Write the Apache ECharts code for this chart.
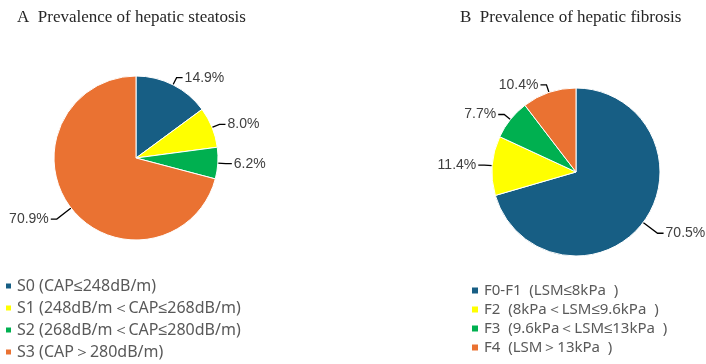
<!DOCTYPE html>
<html>
<head>
<meta charset="utf-8">
<script src="https://cdn.jsdelivr.net/npm/echarts@6/dist/echarts.min.js"></script>
<style>
  html, body { margin: 0; padding: 0; background: #fff; }
  #chart { width: 706px; height: 364px; }
</style>
</head>
<body>
<div id="chart"></div>
<script>
// Panel A: hepatic steatosis
const steatosisNames = [
  'S0 (CAP≤248dB/m)',
  'S1 (248dB/m＜CAP≤268dB/m)',
  'S2 (268dB/m＜CAP≤280dB/m)',
  'S3 (CAP＞280dB/m)'
];
const steatosisValues = [14.9, 8.0, 6.2, 70.9];

// Panel B: hepatic fibrosis
const fibrosisNames = [
  'F0-F1  (LSM≤8kPa  )',
  'F2  (8kPa＜LSM≤9.6kPa  )',
  'F3  (9.6kPa＜LSM≤13kPa  )',
  'F4  (LSM＞13kPa  )'
];
const fibrosisValues = [70.5, 11.4, 7.7, 10.4];

const colors = ['#175E84', '#FFFF00', '#00B050', '#EA7232'];

const chart = echarts.init(document.getElementById('chart'));

const labelStyle = {
  show: true,
  position: 'outside',
  formatter: p => p.value.toFixed(1) + '%',
  color: '#404040',
  fontFamily: 'Liberation Sans, Arial, sans-serif',
  fontSize: 14,
  overflow: 'none',
  distanceToLabelLine: 2
};

const lineStyle = { color: '#000', width: 1.3 };
const titleStyle = { fontFamily: 'Liberation Serif, Times New Roman, serif', fontWeight: 'normal', fontSize: 17, color: '#262626' };

// long leader for the big slices, as in the source figure
const toData = (names, values, longIdx) => names.map((n, i) => {
  const d = { name: n, value: values[i] };
  if (i === longIdx) d.labelLine = { length: 18 };
  return d;
});

chart.setOption({
  animation: false,
  color: colors,
  title: [
    { text: 'A  Prevalence of hepatic steatosis', left: 12, top: 4, textStyle: titleStyle },
    { text: 'B  Prevalence of hepatic fibrosis', left: 455, top: 4, textStyle: titleStyle }
  ],
  legend: [
    {
      data: steatosisNames,
      orient: 'vertical',
      left: 4, top: 278, padding: 0,
      itemWidth: 7, itemHeight: 7, itemGap: 6,
      icon: 'rect',
      textStyle: { color: '#595959', fontFamily: 'Noto Sans, sans-serif', fontSize: 16, lineHeight: 16 }
    },
    {
      data: fibrosisNames,
      orient: 'vertical',
      left: 470, top: 283, padding: 0,
      itemWidth: 8, itemHeight: 8, itemGap: 4,
      icon: 'rect',
      textStyle: { color: '#595959', fontFamily: 'Noto Sans, sans-serif', fontSize: 15, lineHeight: 15 }
    }
  ],
  series: [
    {
      type: 'pie',
      center: [136, 158],
      radius: 82,
      startAngle: 90,
      clockwise: true,
      itemStyle: { borderColor: '#fff', borderWidth: 1 },
      label: labelStyle,
      labelLine: { show: true, length: 8, length2: 6, lineStyle: lineStyle },
      data: toData(steatosisNames, steatosisValues, 3)
    },
    {
      type: 'pie',
      center: [576, 172],
      radius: 84,
      startAngle: 90,
      clockwise: true,
      itemStyle: { borderColor: '#fff', borderWidth: 1 },
      label: labelStyle,
      labelLine: { show: true, length: 8, length2: 6, lineStyle: lineStyle },
      data: toData(fibrosisNames, fibrosisValues, 0)
    }
  ]
});
</script>
</body>
</html>
